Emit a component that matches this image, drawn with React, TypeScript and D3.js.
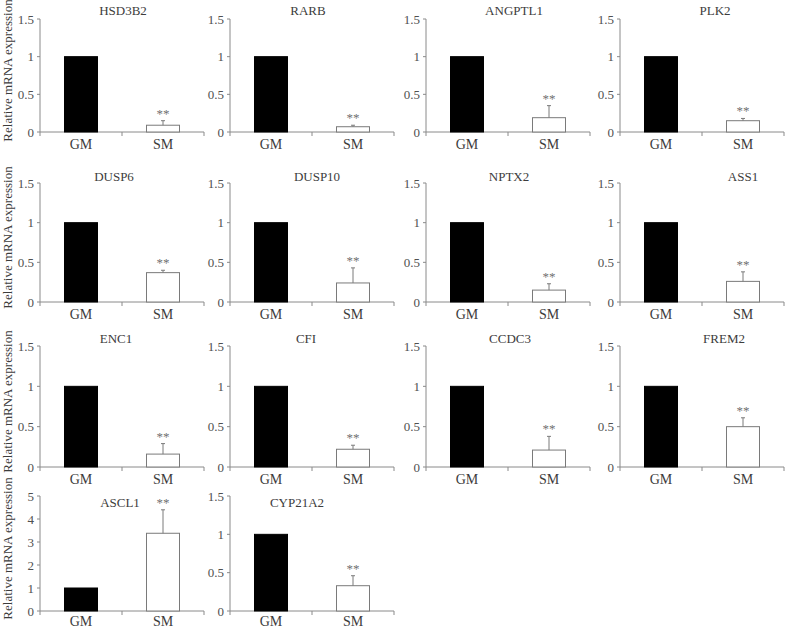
import * as d3 from 'd3'
import * as React from 'react'

// ---- data ----
const genes = ['HSD3B2', 'RARB', 'ANGPTL1', 'PLK2', 'DUSP6', 'DUSP10', 'NPTX2', 'ASS1',
  'ENC1', 'CFI', 'CCDC3', 'FREM2', 'ASCL1', 'CYP21A2']
const categories = ['GM', 'SM']
const gmValues = [1, 1, 1, 1, 1, 1, 1, 1, 1, 1, 1, 1, 1, 1]
const smValues = [0.09, 0.07, 0.19, 0.15, 0.37, 0.24, 0.15, 0.26, 0.16, 0.22, 0.21, 0.5, 3.38, 0.33]
const smErrors = [0.06, 0.02, 0.16, 0.03, 0.03, 0.19, 0.08, 0.12, 0.13, 0.05, 0.17, 0.11, 1.02, 0.13]
const significance = ['**', '**', '**', '**', '**', '**', '**', '**', '**', '**', '**', '**', '**', '**']
const yMaxes = [1.5, 1.5, 1.5, 1.5, 1.5, 1.5, 1.5, 1.5, 1.5, 1.5, 1.5, 1.5, 5, 1.5]
const ticksLow = [0, 0.5, 1, 1.5]
const ticksHigh = [0, 1, 2, 3, 4, 5]
const yLabel = 'Relative mRNA expression'

// ---- layout ----
const W = 787
const H = 628
const colX = [40, 230, 426, 620]
const rowTop = [19, 183, 346, 496]
const rowBottom = [132, 302, 467, 611]
const plotW = 164
const titleDx = [83, 78, 88, 95, 74, 87, 83, 123, 76, 76, 84, 104, 80, 67]
const titleDy = [-4, -2, -3, 11]
const labelDy = [17, 17, 17, 15]
const barW = 33

const FONT = '"Liberation Serif", "Times New Roman", serif'
const AXIS = '#8a8a8a'
const TEXT = '#3c3c3c'

type PanelProps = {
  i: number
}

const Panel = ({ i }: PanelProps) => {
  const row = Math.floor(i / 4)
  const col = i % 4
  const x0 = colX[col]
  const top = rowTop[row]
  const bottom = rowBottom[row]

  const y = d3.scaleLinear().domain([0, yMaxes[i]]).range([bottom, top])
  const x = d3.scaleBand<string>().domain(categories).range([x0, x0 + plotW]).padding(0)
  const ticks = yMaxes[i] > 2 ? ticksHigh : ticksLow
  const fmt = (d: number) => String(d)

  const values = [gmValues[i], smValues[i]]
  const errTop = y(smValues[i] + smErrors[i])
  const smCx = x('SM')! + x.bandwidth() / 2

  return (
    <g>
      {/* title */}
      <text x={x0 + titleDx[i]} y={top + titleDy[row]} textAnchor="middle"
        fontSize={13} fill={TEXT} fontFamily={FONT}>{genes[i]}</text>

      {/* y axis */}
      <line x1={x0} x2={x0} y1={top} y2={bottom + 4} stroke={AXIS} strokeWidth={1} />
      {ticks.map(t => (
        <g key={t}>
          <line x1={x0 - 3} x2={x0} y1={y(t)} y2={y(t)} stroke={AXIS} />
          <text x={x0 - 6} y={y(t)} dy="0.35em" textAnchor="end" fontSize={13}
            fill="#505050" fontFamily={FONT}>{fmt(t)}</text>
        </g>
      ))}

      {/* x axis */}
      <line x1={x0} x2={x0 + plotW} y1={bottom} y2={bottom} stroke={AXIS} />
      {[x0 + x.bandwidth(), x0 + plotW].map(px => (
        <line key={px} x1={px} x2={px} y1={bottom} y2={bottom + 4} stroke={AXIS} />
      ))}
      {categories.map(c => (
        <text key={c} x={x(c)! + x.bandwidth() / 2} y={bottom + labelDy[row]} textAnchor="middle"
          fontSize={14} fill={TEXT} fontFamily={FONT}>{c}</text>
      ))}

      {/* bars */}
      {categories.map((c, k) => (
        <rect key={c}
          x={x(c)! + (x.bandwidth() - barW) / 2}
          y={y(values[k])}
          width={barW}
          height={bottom - y(values[k])}
          fill={k === 0 ? '#000' : '#fff'}
          stroke={k === 0 ? '#000' : '#7a7a7a'}
          strokeWidth={1} />
      ))}

      {/* error bar on SM */}
      <line x1={smCx} x2={smCx} y1={y(smValues[i])} y2={errTop} stroke="#7a7a7a" />
      <line x1={smCx - 2} x2={smCx + 2} y1={errTop} y2={errTop} stroke="#7a7a7a" />
      <text x={smCx} y={errTop - 3} textAnchor="middle" fontSize={13}
        fill="#707070" fontFamily={FONT}>{significance[i]}</text>
    </g>
  )
}

export default function App() {
  const rowCenters = rowTop.map((t, r) => (t + rowBottom[r]) / 2 - 5)
  return (
    <div style={{ position: 'absolute', left: 0, top: 0 }}>
      <svg width={W} height={H} style={{ display: 'block', background: '#fff' }}>
        {rowCenters.map((cy, r) => (
          <text key={r} transform={`translate(12,${cy}) rotate(-90)`} textAnchor="middle"
            fontSize={13} fill={TEXT} fontFamily={FONT}>{yLabel}</text>
        ))}
        {genes.map((g, i) => <Panel key={g} i={i} />)}
      </svg>
    </div>
  )
}
